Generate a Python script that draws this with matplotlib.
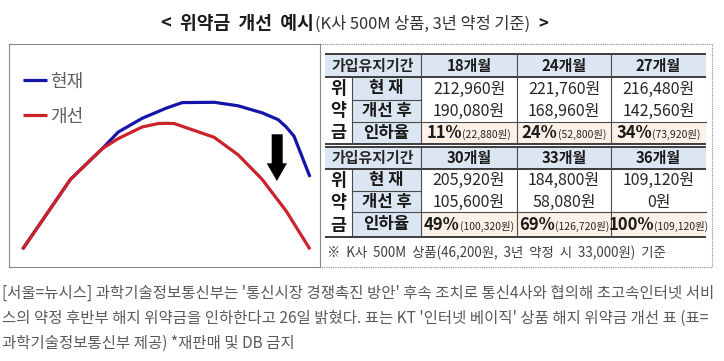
import matplotlib
matplotlib.use('Agg')
import matplotlib.pyplot as plt
from matplotlib.patches import Rectangle, Polygon

plt.rcParams['font.family'] = ['Noto Sans CJK KR', 'DejaVu Sans']

# ---------------- data ----------------
chart_months_current = [0, 6, 10, 12, 15, 18, 20, 24, 27, 30, 32, 33, 34, 36]
chart_current = [0, 105400, 152000, 177000, 197700, 212960, 221300, 221760,
                 216480, 205920, 195700, 184800, 170600, 109120]
chart_months_improved = [0, 6, 10, 12, 15, 17, 18, 19, 24, 27, 30, 33, 36]
chart_improved = [0, 105400, 152000, 167100, 184600, 189700, 190080, 189700,
                  168960, 142560, 105600, 58080, 0]
legend_labels = ['현재', '개선']

table_months = [18, 24, 27, 30, 33, 36]
table_current = [212960, 221760, 216480, 205920, 184800, 109120]
table_improved = [190080, 168960, 142560, 105600, 58080, 0]
table_rate_pct = [11, 24, 34, 49, 69, 100]
table_reduction = [22880, 52800, 73920, 100320, 126720, 109120]
row_labels = ['현 재', '개선 후', '인하율']

title_bold = '<  위약금  개선  예시'
title_sub = '(K사 500M 상품, 3년 약정 기준)'
footnote = '※  K사  500M  상품(46,200원,  3년  약정  시  33,000원)  기준'
caption_lines = [
    "[서울=뉴시스] 과학기술정보통신부는 '통신시장 경쟁촉진 방안' 후속 조치로 통신4사와 협의해 초고속인터넷 서비",
    "스의 약정 후반부 해지 위약금을 인하한다고 26일 밝혔다. 표는 KT '인터넷 베이직' 상품 해지 위약금 개선 표 (표=",
    "과학기술정보통신부 제공) *재판매 및 DB 금지",
]

# ---------------- figure ----------------
W, H = 724, 361
fig = plt.figure(figsize=(W / 100, H / 100), dpi=100)
fig.patch.set_facecolor('white')

# chart axes (box x 9..320, y 44..267 in pixels)
bx0, bx1, by0, by1 = 9, 320, 44, 267
ax = fig.add_axes([bx0 / W, (H - by1) / H, (bx1 - bx0) / W, (by1 - by0) / H])
px_per_month = (310 - 22.5) / 36
won_per_px = 221760 / (249.3 - 102.3)
ax.set_xlim((bx0 - 22.5) / px_per_month, (bx1 - 22.5) / px_per_month)
ax.set_ylim((249.3 - by1) * won_per_px, (249.3 - by0) * won_per_px)
ax.set_xticks([])
ax.set_yticks([])
for sp in ax.spines.values():
    sp.set_linestyle((0, (1, 1)))
    sp.set_color('#8a8a8a')
    sp.set_linewidth(0.8)

blue = '#1414a8'
red = '#cc2229'
ax.plot(chart_months_current, chart_current, color=blue, lw=2.3,
        label=legend_labels[0], solid_capstyle='butt', zorder=2)
ax.plot(chart_months_improved, chart_improved, color=red, lw=2.3,
        label=legend_labels[1], solid_capstyle='butt', zorder=3)
leg = ax.legend(loc='upper left', bbox_to_anchor=(0.045, 0.872), frameon=False,
                handlelength=1.35, handletextpad=0.15, labelspacing=0.95,
                fontsize=13, labelcolor='#5e5e5e', borderaxespad=0, borderpad=0)

# overlay axes in pixel coordinates
ov = fig.add_axes([0, 0, 1, 1])
ov.set_xlim(0, W)
ov.set_ylim(H, 0)
ov.axis('off')
ov.patch.set_alpha(0)

R = fig.canvas.get_renderer()


def tw(t):
    return t.get_window_extent(R).width


def fit(t, width):
    t.set_fontsize(t.get_fontsize() * width / tw(t))


def segs(x, y, parts):
    ts = [ov.text(0, y, s, ha='left', va='baseline', **kw) for s, kw in parts]
    ws = [tw(t) for t in ts]
    cx = x - sum(ws) / 2
    for t, w in zip(ts, ws):
        t.set_x(cx)
        cx += w
    return ts


# arrow
ov.add_patch(Polygon([(271.7, 134.3), (282.7, 134.3), (282.7, 163.3), (287, 163.3),
                      (276.9, 181), (266.7, 163.3), (271.7, 163.3)],
                     closed=True, facecolor='black', edgecolor='none', zorder=5))

# title
tb = ov.text(161, 29, title_bold, ha='left', va='baseline', fontsize=12,
             fontweight='bold', color='#1a1a1a')
fit(tb, 153)
tsub = ov.text(315, 29, title_sub, ha='left', va='baseline', fontsize=9.5, color='#333333')
fit(tsub, 216)
ov.text(538, 29, '>', ha='left', va='baseline', fontsize=12, fontweight='bold', color='#1a1a1a')

# table outer dotted box
ov.add_patch(Rectangle((320, 44), 712 - 320, 267 - 44, fill=False, edgecolor='#8a8a8a',
                       lw=0.8, linestyle=(0, (1, 1)), zorder=1))

xs = [325, 352, 421, 517, 611, 706]
hdr_bg = '#dce6f2'
peach = '#fdf0e6'
thick = '#3c3c3c'
thin = '#4a4a4a'
label_fs = 12


def draw_table(ys, idx):
    y0, y1, y2, y3, y4 = ys
    # backgrounds
    ov.add_patch(Rectangle((xs[0], y0), xs[5] - xs[0], y1 - y0, facecolor=hdr_bg, edgecolor='none'))
    ov.add_patch(Rectangle((xs[1], y1), xs[2] - xs[1], y4 - y1, facecolor=hdr_bg, edgecolor='none'))
    ov.add_patch(Rectangle((xs[2], y3), xs[5] - xs[2], y4 - y3, facecolor=peach, edgecolor='none'))
    # lines
    ov.plot([xs[0], xs[5]], [y0, y0], color=thick, lw=1.4, solid_capstyle='butt')
    ov.plot([xs[0], xs[5]], [y1, y1], color=thick, lw=1.4, solid_capstyle='butt')
    ov.plot([xs[0], xs[5]], [y4, y4], color=thick, lw=1.4, solid_capstyle='butt')
    ov.plot([xs[1], xs[2]], [y2, y2], color=thin, lw=0.8)
    ov.plot([xs[1], xs[5]], [y3, y3], color=thin, lw=0.8)
    ov.plot([xs[1], xs[1]], [y1, y4], color=thin, lw=0.8)
    for x in xs[2:5]:
        ov.plot([x, x], [y0, y4], color=thin, lw=0.8)
    # header texts
    t = ov.text((xs[0] + xs[2]) / 2, (y0 + y1) / 2 + 0.5, '가입유지기간', ha='center', va='center',
                fontsize=10.5, fontweight='bold', color='#262626')
    fit(t, 82)
    for k, i in enumerate(idx):
        cx = (xs[2 + k] + xs[3 + k]) / 2
        t = ov.text(cx, (y0 + y1) / 2 + 0.5, f'{table_months[i]}개월', ha='center', va='center',
                    fontsize=11, fontweight='bold', color='#1a1a1a')
        fit(t, 45)
        ov.text(cx, (y1 + y2) / 2 + 0.5, f'{table_current[i]:,}원', ha='center', va='center',
                fontsize=11.5, color='#262626')
        ov.text(cx, (y2 + y3) / 2 + 0.5, f'{table_improved[i]:,}원', ha='center', va='center',
                fontsize=11.5, color='#262626')
        segs(cx, (y3 + y4) / 2 + 5,
             [(f'{table_rate_pct[i]}%', dict(fontsize=12, fontweight='bold', color='#1a1a1a')),
              (f'({table_reduction[i]:,}원)', dict(fontsize=7.5, color='#262626'))])
    # row labels
    lx = (xs[1] + xs[2]) / 2
    for (ya, yb), s in zip([(y1, y2), (y2, y3), (y3, y4)], row_labels):
        ov.text(lx, (ya + yb) / 2, s, ha='center', va='center', fontsize=label_fs,
                fontweight='bold', color='#1a1a1a')
    # vertical merged label
    step = (y4 - y1) / 3
    for j, ch in enumerate('위약금'):
        ov.text((xs[0] + xs[1]) / 2, y1 + step * (j + 0.5) + 0.5, ch, ha='center', va='center',
                fontsize=12.5, fontweight='bold', color='#1a1a1a')


draw_table([54, 77, 100, 122, 144], [0, 1, 2])
draw_table([147, 169, 191, 212, 237], [3, 4, 5])

t = ov.text(327, 253, footnote, ha='left', va='center', fontsize=10, color='#404040')
fit(t, 340)

# caption
cap_y = [293, 318, 343]
ts = [ov.text(2, y, s, ha='left', va='center', fontsize=9.5, color='#5a5a5a')
      for y, s in zip(cap_y, caption_lines)]
scale = 710 / tw(ts[0])
for t in ts:
    t.set_fontsize(t.get_fontsize() * scale)

fig.savefig('out.png', dpi=100, facecolor='white')
